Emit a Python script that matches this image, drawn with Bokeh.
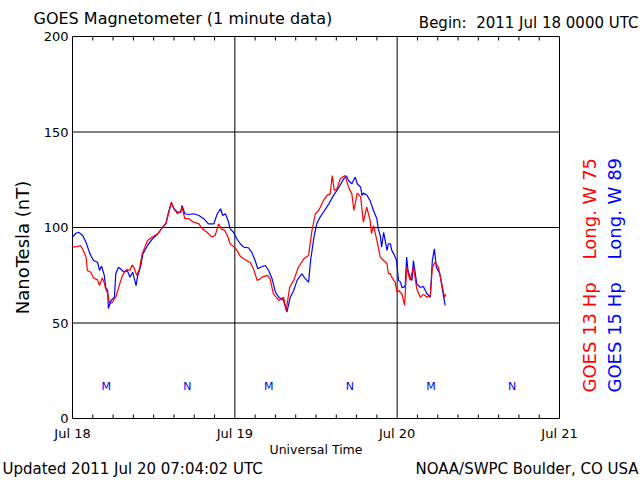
import math
from bokeh.plotting import figure
from bokeh.models import Range1d, Label
from bokeh.core.properties import value
from bokeh.embed import file_html
from bokeh.resources import INLINE

# ---- data (hours since 2011 Jul 18 00:00 UT, nanotesla) ----
goes15_t = [0.0, 0.5, 0.9, 1.5, 2.0, 2.4, 2.7, 3.1, 3.7, 4.0, 4.3, 4.7, 4.9, 5.2, 5.3, 5.7, 6.2, 6.4,
            6.8, 7.1, 7.6, 8.1, 8.5, 8.9, 9.4, 9.6, 10.1, 10.4, 11.1, 11.8, 12.6, 13.3, 13.8, 14.2,
            14.6, 15.0, 15.5, 16.0, 16.2, 16.6, 17.2, 17.9, 18.7, 19.4, 20.1, 20.9, 21.4, 21.9, 22.2,
            22.6, 23.0, 23.3, 23.8, 24.3, 24.8, 25.3, 26.0, 26.5, 27.0, 27.4, 27.8, 28.5, 29.0, 29.5,
            30.0, 30.5, 31.2, 31.7, 32.2, 32.7, 33.2, 33.9, 34.4, 34.9, 35.2, 35.7, 36.1, 36.6, 37.1,
            37.9, 38.6, 39.4, 40.1, 40.5, 40.8, 41.3, 41.8, 42.1, 42.6, 42.8, 43.0, 43.5, 44.0, 44.5,
            45.0, 45.2, 45.5, 45.7, 46.0, 46.5, 46.7, 47.0, 47.2, 47.5, 47.7, 47.9, 48.2, 48.5, 48.7,
            49.0, 49.2, 49.4, 49.6, 49.9, 50.2, 50.4, 50.9, 51.4, 51.9, 52.4, 52.9, 53.2, 53.5, 53.8,
            54.3, 54.8, 55.1]
goes15_hp = [95, 97, 97.5, 95.8, 92.3, 88, 85.3, 82.7, 81.8, 77.5, 79.8, 74.9, 68.7, 67, 57.6, 61.8, 63.5, 75.9,
             79.2, 78.4, 76.6, 77.5, 74, 76.6, 69.6, 74, 80, 86.2, 90.6, 94, 96.7, 100, 102, 108,
             112.7, 109.8, 108, 108, 111.5, 107.2, 106.8, 107.2, 106.3, 104.6, 101.9, 101.9, 107.2, 109.8, 106.3,
             107.2, 103.7, 99.3, 97.5, 94.1, 91.5, 89.7, 89.4, 87.1, 82.7, 78.4, 79.2, 80.1, 77.5, 73.2,
             66.2, 63.5, 61.8, 55.7, 63.5, 67, 72.3, 75.8, 73.2, 71.4, 82.7, 95, 101.9, 105.4, 108,
             112.4, 116.8, 121.1, 125.5, 127, 124.6, 122.9, 126.4, 122.9, 121.1, 116.8, 118, 117, 114.1, 108.9,
             104.6, 99.3, 95.8, 89.7, 97.5, 88, 91.5, 91.5, 88, 86.2, 84.5, 82.7, 72.3, 71.4, 68.7,
             68.7, 70, 84.5, 77.5, 74, 72.3, 82.7, 70.5, 68.7, 69, 65.3, 63.5, 82.7, 88.8, 79.2,
             75.8, 65.3, 59.2]

goes13_t = [0.0, 0.7, 1.2, 1.6, 2.0, 2.2, 2.7, 3.1, 3.7, 4.0, 4.4, 4.7, 4.9, 5.2, 5.5, 5.9, 6.4, 6.9,
            7.4, 7.8, 8.1, 8.5, 8.8, 9.1, 9.5, 9.9, 10.3, 11.1, 11.8, 12.6, 13.3, 13.8, 14.2, 14.6,
            15.0, 15.5, 16.0, 16.2, 16.6, 17.2, 17.9, 18.7, 19.2, 19.9, 20.6, 21.1, 21.6, 22.0, 22.5,
            22.9, 23.3, 24.1, 24.8, 25.6, 26.3, 26.8, 27.3, 27.8, 28.0, 28.8, 29.2, 29.7, 30.5, 31.2,
            31.6, 32.1, 32.7, 33.4, 34.2, 34.9, 35.4, 35.9, 36.4, 37.1, 37.6, 38.1, 38.4, 38.7, 39.1,
            39.6, 40.3, 40.8, 41.3, 41.6, 42.1, 42.6, 43.0, 43.5, 44.0, 44.2, 44.5, 45.0, 45.2, 45.5,
            46.0, 46.5, 46.7, 47.0, 47.2, 47.5, 47.7, 48.0, 48.2, 48.7, 49.1, 49.4, 49.9, 50.4, 50.9,
            51.4, 51.9, 52.4, 52.9, 53.2, 53.6, 54.1, 54.6, 55.0, 55.2]
goes13_hp = [89.7, 90, 90.6, 88, 84.5, 77.5, 76.6, 73.6, 72.6, 69.6, 73.6, 71, 67.9, 65.4, 60, 60.9, 63.5, 69.6,
             74.9, 77.5, 78, 77.5, 80.4, 79, 74.9, 78.4, 86.2, 93.2, 95, 96.7, 100, 102, 107.2, 113.3,
             109.8, 107.2, 108.5, 110.6, 104.6, 104.6, 102.8, 101.9, 99.3, 97.5, 95, 95.8, 101.9, 99.3, 98.5,
             95.8, 91.5, 89.2, 85, 83, 81.5, 78, 72.3, 73.2, 74, 74.9, 73.2, 65.3, 61.8, 63.5,
             56.5, 68.7, 72.3, 79.2, 83.6, 85.3, 98.4, 107.2, 108.9, 114.1, 116.8, 117.6, 127.2, 119.4, 120.3,
             125.5, 127.2, 121.1, 117.6, 108.9, 118, 116, 102.8, 110.6, 103.7, 96.8, 101, 93.2, 89.7, 84.5,
             82.7, 81, 75.9, 75.8, 74, 72.3, 71.4, 66.2, 67, 65.3, 59.2, 79.2, 72.3, 79.2, 67.9,
             63.5, 65, 63.5, 64.5, 79.2, 81.8, 79.2, 70.5, 63.5, 65]

day_ticks = [0, 24, 48, 72]
day_labels = ["Jul 18", "Jul 19", "Jul 20", "Jul 21"]
nt_ticks = [0, 50, 100, 150, 200]
nt_labels = ["0", "50", "100", "150", "200"]
hour_minor = [3, 6, 9, 12, 15, 18, 21, 27, 30, 33, 36, 39, 42, 45, 51, 54, 57, 60, 63, 66, 69]
mn_t = [5, 17, 29, 41, 53, 65]
mn_text = ["M", "N", "M", "N", "M", "N"]

# ---- layout (pixels) ----
W, H = 640, 480
BOX_L, BOX_R, BOX_T, BOX_B = 72, 559, 36, 418
X0, X1 = day_ticks[0], day_ticks[-1]
Y0, Y1 = nt_ticks[0], nt_ticks[-1]
sx = (BOX_R - BOX_L) / (X1 - X0)
sy = (BOX_B - BOX_T) / (Y1 - Y0)
def tx(px):  # canvas pixel -> data x
    return X0 + (px - BOX_L) / sx
def ty(py):  # canvas pixel -> data y
    return Y0 + (BOX_B - py) / sy

FONT = "DejaVu Sans"
RED = "#ff0000"
BLUE = "#0000ff"
NB = "\u00a0"

p = figure(width=W, height=H, x_range=Range1d(tx(0), tx(W)), y_range=Range1d(ty(H), ty(0)),
           output_backend="svg", toolbar_location=None,
           x_axis_location=None, y_axis_location=None, min_border=0)
p.background_fill_color = "white"
p.border_fill_color = "white"
p.outline_line_color = None
p.grid.visible = False

# plot box, grid lines and hour ticks
p.quad(left=X0, right=X1, bottom=Y0, top=Y1, fill_color=None, line_color="black", line_width=1)
p.segment(x0=day_ticks[1:-1], y0=Y0, x1=day_ticks[1:-1], y1=Y1, line_color="black", line_width=1)
p.segment(x0=X0, y0=nt_ticks[1:-1], x1=X1, y1=nt_ticks[1:-1], line_color="black", line_width=1)
p.ray(x=hour_minor, y=Y0, length=4, length_units="screen", angle=math.pi / 2, line_color="black")
p.ray(x=hour_minor, y=Y1, length=4, length_units="screen", angle=-math.pi / 2, line_color="black")

# tick labels
p.text(x=[X0] * len(nt_ticks), y=nt_ticks, text=nt_labels, x_offset=-4, text_align="right",
       text_baseline="middle", text_font=value(FONT), text_font_size="13px", text_color="black")
p.text(x=day_ticks, y=[Y0] * len(day_ticks), text=day_labels, y_offset=15, text_align="center",
       text_baseline="middle", text_font=value(FONT), text_font_size="13px", text_color="black")

# data
p.line(goes15_t, goes15_hp, line_color=BLUE, line_width=1.2)
p.line(goes13_t, goes13_hp, line_color=RED, line_width=1.2)

p.text(x=mn_t, y=[17] * len(mn_t), text=mn_text, text_color=BLUE, text_font=value(FONT),
       text_font_size="11px", text_align="center", text_baseline="middle")

def lab(px, py, text, size, color="black", align="left", baseline="middle", angle=0):
    p.add_layout(Label(x=tx(px), y=ty(py), text=text, text_font=FONT, text_font_size=size,
                       text_color=color, text_align=align, text_baseline=baseline, angle=angle))

lab(33, 18, "GOES Magnetometer (1 minute data)", "16px")
lab(638, 22, "Begin:" + NB * 2 + "2011 Jul 18 0000 UTC", "15px", align="right")
lab((BOX_L + BOX_R) / 2, 449, "Universal Time", "12.5px", align="center")
lab(2, 468, "Updated 2011 Jul 20 07:04:02 UTC", "15px")
lab(638, 468, "NOAA/SWPC Boulder, CO USA", "15px", align="right")
lab(22, 247, "NanoTesla (nT)", "18px", align="center", angle=math.pi / 2)
lab(589, 392, "GOES 13 Hp" + NB * 4 + "Long. W 75", "18px", color=RED, angle=math.pi / 2)
lab(614, 392, "GOES 15 Hp" + NB * 4 + "Long. W 89", "18px", color=BLUE, angle=math.pi / 2)

open("out.html", "w").write(file_html(p, INLINE))
